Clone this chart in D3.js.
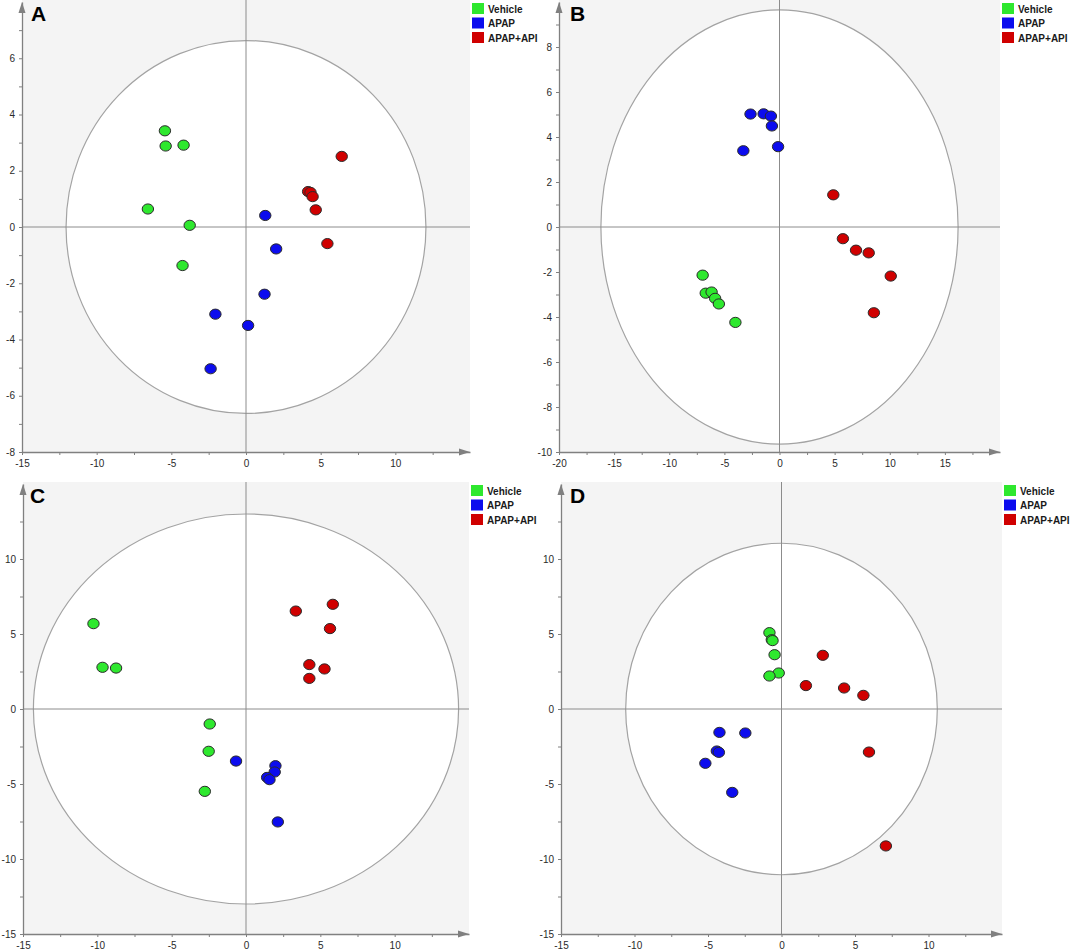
<!DOCTYPE html>
<html>
<head>
<meta charset="utf-8">
<script src="https://cdn.jsdelivr.net/npm/d3@7"></script>
<style>
  body { margin: 0; background: #fff; }
  svg { display: block; }
  .tick text { font-family: "Liberation Sans", Arial, sans-serif; font-size: 10px; fill: #2a2a2a; }
</style>
</head>
<body>
<div id="main"></div>
<script>
// groups shown in every legend
const groups = ["Vehicle", "APAP", "APAP+API"];
const groupColors = ["#2ee82e", "#0c0cee", "#d00000"];

// scores: [t1, t2]
const aVehicle = [[-5.43, 3.42], [-5.38, 2.88], [-4.18, 2.91], [-6.57, 0.64], [-3.77, 0.06], [-4.25, -1.37]];
const aApap = [[1.29, 0.41], [2.02, -0.78], [1.24, -2.39], [-2.05, -3.10], [0.14, -3.50], [-2.37, -5.04]];
const aApapApi = [[6.41, 2.51], [4.16, 1.26], [4.32, 1.23], [4.46, 1.08], [4.67, 0.61], [5.45, -0.59]];

const bVehicle = [[-6.97, -2.14], [-6.69, -2.94], [-6.16, -2.89], [-5.84, -3.17], [-5.5, -3.42], [-4.0, -4.24]];
const bApap = [[-2.63, 5.02], [-1.44, 5.03], [-0.78, 4.93], [-0.69, 4.49], [-0.13, 3.57], [-3.28, 3.39]];
const bApapApi = [[4.88, 1.43], [5.75, -0.52], [6.94, -1.03], [8.09, -1.15], [10.09, -2.18], [8.56, -3.81]];

const cVehicle = [[-10.26, 5.69], [-9.65, 2.78], [-8.74, 2.73], [-2.44, -1.0], [-2.51, -2.82], [-2.77, -5.49]];
const cApap = [[-0.67, -3.47], [1.98, -3.78], [1.93, -4.2], [1.42, -4.56], [1.58, -4.71], [2.14, -7.53]];
const cApapApi = [[3.35, 6.53], [5.84, 6.98], [5.65, 5.36], [4.26, 2.96], [5.28, 2.67], [4.26, 2.04]];

const dVehicle = [[-0.82, 5.09], [-0.66, 4.62], [-0.61, 4.56], [-0.47, 3.62], [-0.19, 2.4], [-0.82, 2.2]];
const dApap = [[-4.22, -1.56], [-2.46, -1.6], [-4.4, -2.8], [-4.26, -2.89], [-5.18, -3.62], [-3.35, -5.56]];
const dApapApi = [[2.81, 3.58], [1.66, 1.56], [4.26, 1.4], [5.57, 0.91], [5.95, -2.87], [7.1, -9.13]];

// Hotelling T2 ellipse half axes [t1, t2]
const ellipseA = [12.05, 6.63];
const ellipseB = [16.2, 9.65];
const ellipseC = [14.3, 13.0];
const ellipseD = [10.6, 11.05];

// axis ranges and tick labels
const xDomainA = [-15, 15], yDomainA = [-8, 8];
const xDomainB = [-20, 20], yDomainB = [-10, 10];
const xDomainC = [-15, 15], yDomainC = [-15, 15];
const xDomainD = [-15, 15], yDomainD = [-15, 15];

const xLabelsA = [-15, -10, -5, 0, 5, 10];
const yLabelsA = [-8, -6, -4, -2, 0, 2, 4, 6];
const xLabelsB = [-20, -15, -10, -5, 0, 5, 10, 15];
const yLabelsB = [-10, -8, -6, -4, -2, 0, 2, 4, 6, 8];
const xLabelsC = [-15, -10, -5, 0, 5, 10];
const yLabelsC = [-15, -10, -5, 0, 5, 10];
const xLabelsD = [-15, -10, -5, 0, 5, 10];
const yLabelsD = [-15, -10, -5, 0, 5, 10];

const svg = d3.select("#main").append("svg")
  .attr("width", 1072)
  .attr("height", 950);

function drawPanel(p) {
  const right = p.left + p.width;
  const x = d3.scaleLinear().domain(p.xDomain).range([p.left, right]);
  const y = d3.scaleLinear().domain(p.yDomain).range([p.bottom, p.top]);
  const g = svg.append("g");

  g.append("rect")
    .attr("x", p.left).attr("y", p.top - 2)
    .attr("width", p.width).attr("height", p.bottom - p.top + 2)
    .attr("fill", "#f4f4f4");

  g.append("ellipse")
    .attr("cx", x(0)).attr("cy", y(0))
    .attr("rx", x(p.ellipse[0]) - x(0))
    .attr("ry", y(0) - y(p.ellipse[1]))
    .attr("fill", "#fff")
    .attr("stroke", "#a3a3a3")
    .attr("stroke-width", 1.2);

  // zero lines
  g.append("line")
    .attr("x1", x(0)).attr("x2", x(0))
    .attr("y1", p.top - 2).attr("y2", p.bottom)
    .attr("stroke", "#8c8c8c");
  g.append("line")
    .attr("x1", p.left).attr("x2", right)
    .attr("y1", y(0)).attr("y2", y(0))
    .attr("stroke", "#8c8c8c");

  const xMinor = d3.range(p.xDomain[0], p.xDomain[1], p.xStep);
  const yMinor = d3.range(p.yDomain[0], p.yDomain[1], p.yStep);

  const xAxis = d3.axisBottom(x)
    .tickValues(xMinor)
    .tickSize(3)
    .tickSizeOuter(0)
    .tickFormat(d => p.xLabels.includes(d) ? d : "");
  const yAxis = d3.axisLeft(y)
    .tickValues(yMinor)
    .tickSize(3)
    .tickSizeOuter(0)
    .tickFormat(d => p.yLabels.includes(d) ? d : "");

  const gx = g.append("g")
    .attr("transform", `translate(0,${p.bottom})`)
    .call(xAxis);
  const gy = g.append("g")
    .attr("transform", `translate(${p.left},0)`)
    .call(yAxis);

  [gx, gy].forEach(a => {
    a.select(".domain").attr("stroke", "#808080").attr("stroke-width", 1.3);
    a.selectAll(".tick line").attr("stroke", "#808080");
  });
  gx.selectAll(".tick text").attr("dy", "0.85em");
  gy.selectAll(".tick text").attr("dx", "-1px");

  // arrow heads
  g.append("path")
    .attr("d", `M${p.left},${p.top} L${p.left - 3.5},${p.top + 11} L${p.left + 3.5},${p.top + 11} Z`)
    .attr("fill", "#808080");
  g.append("path")
    .attr("d", `M${right},${p.bottom} L${right - 11},${p.bottom - 3.5} L${right - 11},${p.bottom + 3.5} Z`)
    .attr("fill", "#808080");

  // scores
  p.series.forEach((s, i) => {
    g.selectAll(null)
      .data(s)
      .enter()
      .append("ellipse")
        .attr("cx", d => x(d[0]))
        .attr("cy", d => y(d[1]))
        .attr("rx", 5.7)
        .attr("ry", 5.1)
        .attr("fill", groupColors[i])
        .attr("stroke", "#2b2b2b")
        .attr("stroke-width", 1);
  });

  g.append("text")
    .attr("x", p.left + p.letterDx)
    .attr("y", p.top + 19)
    .style("font-family", "'Liberation Sans', Arial, sans-serif")
    .style("font-weight", "bold")
    .style("font-size", "21px")
    .attr("fill", "#000")
    .text(p.letter);

  // legend
  const lg = g.append("g")
    .attr("transform", `translate(${right + 2},${p.top + 1})`);
  groups.forEach((name, i) => {
    lg.append("rect")
      .attr("x", 0).attr("y", i * 14.5)
      .attr("width", 12).attr("height", 11)
      .attr("fill", groupColors[i]);
    lg.append("text")
      .attr("x", 16).attr("y", i * 14.5 + 9.5)
      .style("font-family", "'Liberation Sans', Arial, sans-serif")
      .style("font-weight", "bold")
      .style("font-size", "10px")
      .attr("fill", "#1a1a1a")
      .text(name);
  });
}

drawPanel({letter: "A", letterDx: 9, left: 22, width: 448, top: 2, bottom: 452,
  xDomain: xDomainA, yDomain: yDomainA, xStep: 2.5, yStep: 1,
  xLabels: xLabelsA, yLabels: yLabelsA, ellipse: ellipseA,
  series: [aVehicle, aApap, aApapApi]});

drawPanel({letter: "B", letterDx: 11, left: 559, width: 441, top: 2, bottom: 452,
  xDomain: xDomainB, yDomain: yDomainB, xStep: 2.5, yStep: 1,
  xLabels: xLabelsB, yLabels: yLabelsB, ellipse: ellipseB,
  series: [bVehicle, bApap, bApapApi]});

drawPanel({letter: "C", letterDx: 7, left: 23, width: 446, top: 484, bottom: 934,
  xDomain: xDomainC, yDomain: yDomainC, xStep: 2.5, yStep: 2.5,
  xLabels: xLabelsC, yLabels: yLabelsC, ellipse: ellipseC,
  series: [cVehicle, cApap, cApapApi]});

drawPanel({letter: "D", letterDx: 9, left: 561, width: 441, top: 484, bottom: 934,
  xDomain: xDomainD, yDomain: yDomainD, xStep: 2.5, yStep: 2.5,
  xLabels: xLabelsD, yLabels: yLabelsD, ellipse: ellipseD,
  series: [dVehicle, dApap, dApapApi]});
</script>
</body>
</html>
